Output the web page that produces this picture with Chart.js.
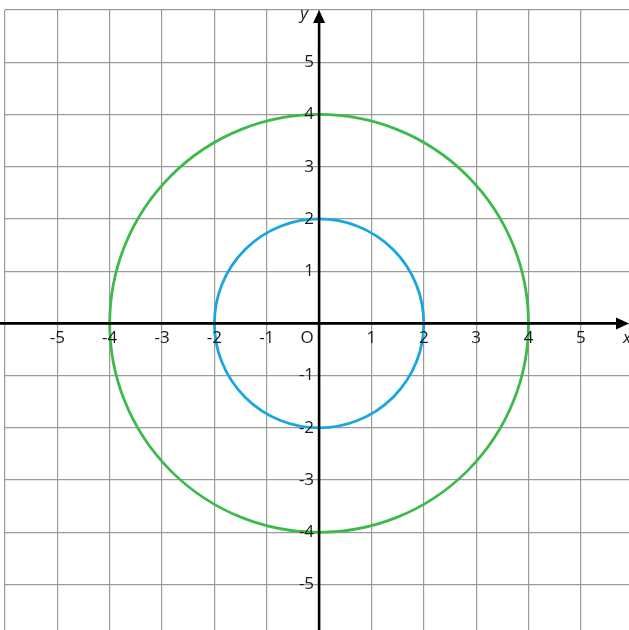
<!DOCTYPE html>
<html>
<head>
<meta charset="utf-8">
<script src="https://cdn.jsdelivr.net/npm/chart.js@4/dist/chart.umd.min.js"></script>
<style>
  html, body { margin: 0; padding: 0; background: #fff; }
  #wrap { width: 629px; height: 630px; }
</style>
</head>
<body>
<div id="wrap"><canvas id="chart"></canvas></div>
<script>
// tick values and labels
const xTicks = [-6, -5, -4, -3, -2, -1, 0, 1, 2, 3, 4, 5];
const yTicks = [-5, -4, -3, -2, -1, 0, 1, 2, 3, 4, 5, 6];
const tickLabels = { "-5": "-5", "-4": "-4", "-3": "-3", "-2": "-2", "-1": "-1", "1": "1", "2": "2", "3": "3", "4": "4", "5": "5" };

// circles centred at origin
const circleNames = ["outer", "inner"];
const circleCx = [0, 0];
const circleCy = [0, 0];
const circleR = [4, 2];
const circleColors = ["#3dba4b", "#1ba6df"];

const FONT = "'Open Sans', 'Noto Sans', sans-serif";

const circlesPlugin = {
  id: "circles",
  afterDatasetsDraw(c) {
    const ctx = c.ctx, x = c.scales.x, y = c.scales.y;
    ctx.save();
    circleNames.forEach((n, i) => {
      const px = x.getPixelForValue(circleCx[i]);
      const py = y.getPixelForValue(circleCy[i]);
      const rx = Math.abs(x.getPixelForValue(circleCx[i] + circleR[i]) - px);
      const ry = Math.abs(y.getPixelForValue(circleCy[i] + circleR[i]) - py);
      ctx.beginPath();
      ctx.ellipse(px, py, rx, ry, 0, 0, Math.PI * 2);
      ctx.strokeStyle = circleColors[i];
      ctx.lineWidth = 2.8;
      ctx.stroke();
    });
    ctx.restore();
  },
};

const axesPlugin = {
  id: "axesArrows",
  afterDraw(c) {
    const ctx = c.ctx, x = c.scales.x, y = c.scales.y, a = c.chartArea;
    const ox = x.getPixelForValue(0), oy = y.getPixelForValue(0);
    ctx.save();
    ctx.strokeStyle = "#000";
    ctx.fillStyle = "#000";
    ctx.lineWidth = 2.6;
    // x axis
    ctx.beginPath(); ctx.moveTo(a.left - 5, oy); ctx.lineTo(a.right - 6, oy); ctx.stroke();
    ctx.beginPath(); ctx.moveTo(a.right, oy); ctx.lineTo(a.right - 13, oy - 6); ctx.lineTo(a.right - 13, oy + 6); ctx.closePath(); ctx.fill();
    // y axis
    ctx.beginPath(); ctx.moveTo(ox, a.bottom); ctx.lineTo(ox, a.top + 6); ctx.stroke();
    ctx.beginPath(); ctx.moveTo(ox, a.top); ctx.lineTo(ox - 6, a.top + 13); ctx.lineTo(ox + 6, a.top + 13); ctx.closePath(); ctx.fill();
    // tick labels
    ctx.fillStyle = "#1a1a1a";
    ctx.font = "17px " + FONT;
    ctx.textAlign = "center";
    ctx.textBaseline = "middle";
    xTicks.forEach((v) => {
      const t = tickLabels[String(v)];
      if (t) ctx.fillText(t, x.getPixelForValue(v), oy + 15);
    });
    ctx.textAlign = "right";
    yTicks.forEach((v) => {
      const t = tickLabels[String(v)];
      if (t) ctx.fillText(t, ox - 5, y.getPixelForValue(v));
    });
    ctx.textAlign = "center";
    ctx.fillText("O", ox - 12, oy + 15);
    ctx.font = "italic 17px " + FONT;
    ctx.fillText("y", ox - 15, a.top + 4);
    ctx.fillText("x", a.right - 2, oy + 15);
    ctx.restore();
  },
};

new Chart(document.getElementById("chart"), {
  type: "scatter",
  data: { datasets: [{ data: [] }] },
  options: {
    responsive: true,
    maintainAspectRatio: false,
    animation: false,
    layout: { padding: { left: 5, top: 10, right: 0, bottom: 0 } },
    plugins: { legend: { display: false }, tooltip: { enabled: false } },
    scales: {
      x: {
        type: "linear", min: -6, max: 5.92,
        afterBuildTicks: (s) => { s.ticks = xTicks.map((v) => ({ value: v })); },
        ticks: { display: false },
        grid: { color: "#9a9a9a", lineWidth: 1.2, drawTicks: false },
        border: { display: false },
      },
      y: {
        type: "linear", min: -5.87, max: 6,
        afterBuildTicks: (s) => { s.ticks = yTicks.map((v) => ({ value: v })); },
        ticks: { display: false },
        grid: { color: "#9a9a9a", lineWidth: 1.2, drawTicks: false },
        border: { display: false },
      },
    },
  },
  plugins: [circlesPlugin, axesPlugin],
});
</script>
</body>
</html>
